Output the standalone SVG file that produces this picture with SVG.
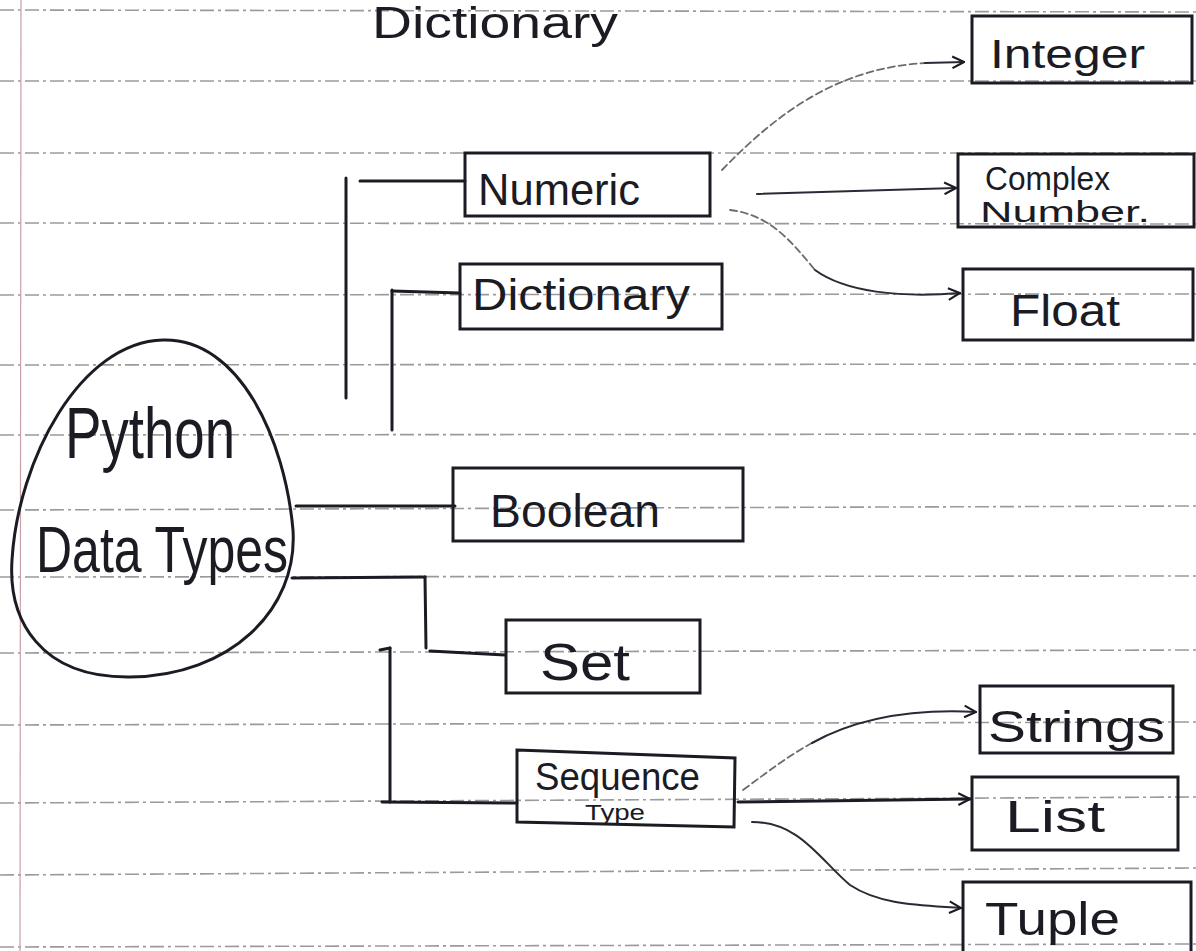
<svg xmlns="http://www.w3.org/2000/svg" width="1196" height="951" viewBox="0 0 1196 951">
<style>
.rule{stroke:#9a9a9a;stroke-width:1.6;stroke-dasharray:14 4 3 4;fill:none}
.box{fill:none;stroke:#1b1b24;stroke-width:3}
.ln{fill:none;stroke:#1b1b24;stroke-width:3;stroke-linecap:round}
.thin{fill:none;stroke:#2a2a35;stroke-width:2;stroke-linecap:round}
.faint{fill:none;stroke:#6a6a72;stroke-width:1.8;stroke-dasharray:7 4;stroke-linecap:round}
.t{font-family:"Liberation Sans",Arial,sans-serif;fill:#1b1b24}
</style>
<defs>
<marker id="arr" viewBox="0 0 12 12" refX="11" refY="6" markerWidth="14" markerHeight="14" markerUnits="userSpaceOnUse" orient="auto">
<path d="M1,1 L11,6 L1,11" fill="none" stroke="#1b1b24" stroke-width="1.8"/>
</marker>
</defs>
<rect width="1196" height="951" fill="#ffffff"/>
<g id="paper">
<line class="rule" x1="0" y1="10" x2="1196" y2="12"/>
<line class="rule" x1="0" y1="81" x2="1196" y2="81"/>
<line class="rule" x1="0" y1="153" x2="1196" y2="153"/>
<line class="rule" x1="0" y1="223" x2="1196" y2="224"/>
<line class="rule" x1="0" y1="295" x2="1196" y2="294"/>
<line class="rule" x1="0" y1="365" x2="1196" y2="364"/>
<line class="rule" x1="0" y1="435" x2="1196" y2="434"/>
<line class="rule" x1="0" y1="510" x2="1196" y2="506"/>
<line class="rule" x1="0" y1="577" x2="1196" y2="576"/>
<line class="rule" x1="0" y1="653" x2="1196" y2="650"/>
<line class="rule" x1="0" y1="725" x2="1196" y2="722"/>
<line class="rule" x1="0" y1="803" x2="1196" y2="797"/>
<line class="rule" x1="0" y1="875" x2="1196" y2="868"/>
<line class="rule" x1="0" y1="947" x2="1196" y2="944"/>
<line x1="21" y1="0" x2="20" y2="951" stroke="#c9a0a8" stroke-width="1.2"/>
<text class="t" x="372" y="38" font-size="44" textLength="246" lengthAdjust="spacingAndGlyphs">Dictionary</text>
</g>
<g id="connectors">
<line class="ln" x1="346" y1="178" x2="346" y2="398"/>
<line class="ln" x1="360" y1="181" x2="465" y2="181"/>
<line class="ln" x1="392" y1="290" x2="392" y2="430"/>
<line class="ln" x1="392" y1="291" x2="460" y2="293"/>
<line class="ln" x1="296" y1="506" x2="455" y2="506"/>
<line class="ln" x1="292" y1="578" x2="425" y2="577"/>
<line class="ln" x1="425" y1="577" x2="426" y2="648"/>
<line class="ln" x1="430" y1="651" x2="505" y2="655"/>
<line class="ln" x1="390" y1="648" x2="390" y2="802"/>
<line class="ln" x1="380" y1="650" x2="390" y2="648"/>
<line class="ln" x1="382" y1="802" x2="517" y2="803"/>
<path class="faint" d="M722 170 C 780 110, 840 68, 925 63"/>
<path class="thin" d="M925 63 L 964 62" marker-end="url(#arr)"/>
<path class="thin" d="M757 194 L 956 188" marker-end="url(#arr)"/>
<path class="faint" d="M730 210 C 770 215, 790 240, 815 270"/>
<path class="thin" d="M815 270 C 845 292, 900 298, 960 293" marker-end="url(#arr)"/>
<path class="faint" d="M743 790 C 770 770, 790 755, 812 743"/>
<path class="thin" d="M812 743 C 850 722, 900 708, 976 712" marker-end="url(#arr)"/>
<path class="ln" d="M738 802 L 970 799" marker-end="url(#arr)"/>
<path class="thin" d="M752 822 C 800 822, 820 860, 850 885 C 880 905, 920 905, 961 908" marker-end="url(#arr)"/>
</g>
<g id="python-data-types">
<path class="box" d="M163 340 C 240 338, 285 440, 293 530 C 298 610, 230 676, 130 677 C 40 678, 8 620, 12 560 C 18 460, 80 342, 163 340 Z"/>
<text class="t" x="65" y="458" font-size="72" textLength="170" lengthAdjust="spacingAndGlyphs">Python</text>
<text class="t" x="36" y="572" font-size="64" textLength="252" lengthAdjust="spacingAndGlyphs">Data Types</text>
</g>
<g id="numeric">
<rect class="box" x="465" y="153" width="245" height="63"/>
<text class="t" x="478" y="205" font-size="44" textLength="162" lengthAdjust="spacingAndGlyphs">Numeric</text>
</g>
<g id="dictionary">
<rect class="box" x="460" y="264" width="262" height="65"/>
<text class="t" x="472" y="310" font-size="44" textLength="218" lengthAdjust="spacingAndGlyphs">Dictionary</text>
</g>
<g id="boolean">
<rect class="box" x="453" y="468" width="290" height="73"/>
<text class="t" x="490" y="527" font-size="46" textLength="170" lengthAdjust="spacingAndGlyphs">Boolean</text>
</g>
<g id="set">
<rect class="box" x="506" y="620" width="194" height="73"/>
<text class="t" x="540" y="680" font-size="52" textLength="90" lengthAdjust="spacingAndGlyphs">Set</text>
</g>
<g id="sequence-type">
<path class="box" d="M517 750 L 735 758 L 734 827 L 517 822 Z"/>
<text class="t" x="535" y="790" font-size="38" textLength="165" lengthAdjust="spacingAndGlyphs">Sequence</text>
<text class="t" x="585" y="820" font-size="22" textLength="60" lengthAdjust="spacingAndGlyphs">Type</text>
</g>
<g id="integer">
<rect class="box" x="972" y="16" width="220" height="67"/>
<text class="t" x="990" y="68" font-size="40" textLength="155" lengthAdjust="spacingAndGlyphs">Integer</text>
</g>
<g id="complex-number">
<rect class="box" x="958" y="154" width="236" height="73"/>
<text class="t" x="985" y="190" font-size="34" textLength="125" lengthAdjust="spacingAndGlyphs">Complex</text>
<text class="t" x="980" y="222" font-size="30" textLength="170" lengthAdjust="spacingAndGlyphs">Number.</text>
</g>
<g id="float">
<rect class="box" x="963" y="269" width="230" height="71"/>
<text class="t" x="1010" y="326" font-size="44" textLength="110" lengthAdjust="spacingAndGlyphs">Float</text>
</g>
<g id="strings">
<rect class="box" x="980" y="686" width="193" height="67"/>
<text class="t" x="988" y="742" font-size="44" textLength="177" lengthAdjust="spacingAndGlyphs">Strings</text>
</g>
<g id="list">
<rect class="box" x="972" y="777" width="206" height="73"/>
<text class="t" x="1005" y="832" font-size="44" textLength="100" lengthAdjust="spacingAndGlyphs">List</text>
</g>
<g id="tuple">
<rect class="box" x="963" y="882" width="228" height="80"/>
<text class="t" x="985" y="935" font-size="46" textLength="135" lengthAdjust="spacingAndGlyphs">Tuple</text>
</g>
</svg>
